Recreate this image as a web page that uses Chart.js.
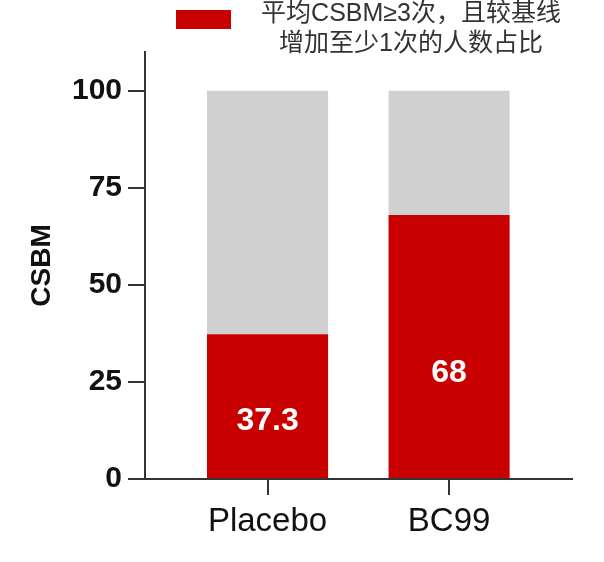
<!DOCTYPE html>
<html>
<head>
<meta charset="utf-8">
<script src="https://cdn.jsdelivr.net/npm/chart.js@4.4.1/dist/chart.umd.min.js"></script>
<style>
  html, body { margin: 0; padding: 0; background: #fff; }
  #wrap { width: 604px; height: 562px; }
</style>
</head>
<body>
<div id="wrap"><canvas id="chart" width="604" height="562"></canvas></div>
<script>
// data
const categories = ['Placebo', 'BC99'];
const responderPct = [37.3, 68];
const restPct = [62.7, 32];
const yTicks = [0, 25, 50, 75, 100];
const legendLines = ['平均CSBM≥3次，且较基线', '增加至少1次的人数占比'];

const RED = '#c90000';
const GRAY = '#d0d0d0';
const AXIS = '#333333';

Chart.defaults.font.family = '"Liberation Sans", Arial, "Noto Sans CJK SC", sans-serif';
Chart.defaults.color = '#111';

// legend drawn by hand (two-line label)
const legendPlugin = {
  id: 'twoLineLegend',
  afterDraw(chart) {
    const ctx = chart.ctx;
    ctx.save();
    ctx.fillStyle = RED;
    ctx.fillRect(176, 10, 55, 19);
    ctx.fillStyle = '#333';
    ctx.font = '25px "Liberation Sans", "Noto Sans CJK SC", sans-serif';
    ctx.textAlign = 'center';
    ctx.textBaseline = 'middle';
    ctx.fillText(legendLines[0], 411, 14);
    ctx.fillText(legendLines[1], 411, 44);
    ctx.restore();
  }
};

// value labels inside the red bars
const valueLabels = {
  id: 'valueLabels',
  afterDatasetsDraw(chart) {
    const ctx = chart.ctx;
    const y = chart.scales.y;
    const meta = chart.getDatasetMeta(0);
    ctx.save();
    ctx.fillStyle = '#fff';
    ctx.font = 'bold 32px "Liberation Sans", Arial, sans-serif';
    ctx.textAlign = 'center';
    ctx.textBaseline = 'middle';
    meta.data.forEach((bar, i) => {
      const v = responderPct[i];
      ctx.fillText(String(v), bar.x, y.getPixelForValue(v * 0.4));
    });
    ctx.restore();
  }
};

new Chart(document.getElementById('chart'), {
  type: 'bar',
  data: {
    datasets: [
      {
        label: legendLines.join(''),
        data: categories.map((c, i) => ({ x: i, y: responderPct[i] })),
        backgroundColor: RED,
        borderWidth: 0,
      },
      {
        label: 'rest',
        data: categories.map((c, i) => ({ x: i, y: restPct[i] })),
        backgroundColor: GRAY,
        borderWidth: 0,
      }
    ]
  },
  options: {
    responsive: false,
    animation: false,
    layout: { padding: { top: 52, right: 32, left: 0, bottom: 0 } },
    datasets: { bar: { barPercentage: 0.667, categoryPercentage: 1 } },
    plugins: {
      legend: { display: false },
      tooltip: { enabled: false },
    },
    scales: {
      x: {
        type: 'linear',
        stacked: true,
        offset: false,
        min: -0.675,
        max: 1.677,
        afterBuildTicks: (scale) => { scale.ticks = categories.map((c, i) => ({ value: i })); },
        afterFit: (scale) => { scale.height = 83; },
        ticks: {
          callback: (v) => categories[v],
          font: { size: 33 },
          color: '#111',
          padding: 7,
          maxRotation: 0,
        },
        grid: { offset: false, drawOnChartArea: false, drawTicks: true, tickLength: 16, color: AXIS, lineWidth: 2 },
        border: { display: true, color: AXIS, width: 2 },
      },
      y: {
        stacked: true,
        min: 0,
        max: 110,
        afterBuildTicks: (scale) => { scale.ticks = yTicks.map(v => ({ value: v })); },
        afterFit: (scale) => { scale.width = 145; },
        ticks: {
          font: { size: 30, weight: 'bold' },
          color: '#111',
          padding: 6,
        },
        title: {
          display: true,
          text: 'CSBM',
          font: { size: 28, weight: 'bold' },
          color: '#111',
          padding: { top: 25, bottom: 0 },
        },
        grid: { drawOnChartArea: false, drawTicks: true, tickLength: 17, color: AXIS, lineWidth: 2 },
        border: { display: true, color: AXIS, width: 2 },
      }
    }
  },
  plugins: [legendPlugin, valueLabels]
});
</script>
</body>
</html>
